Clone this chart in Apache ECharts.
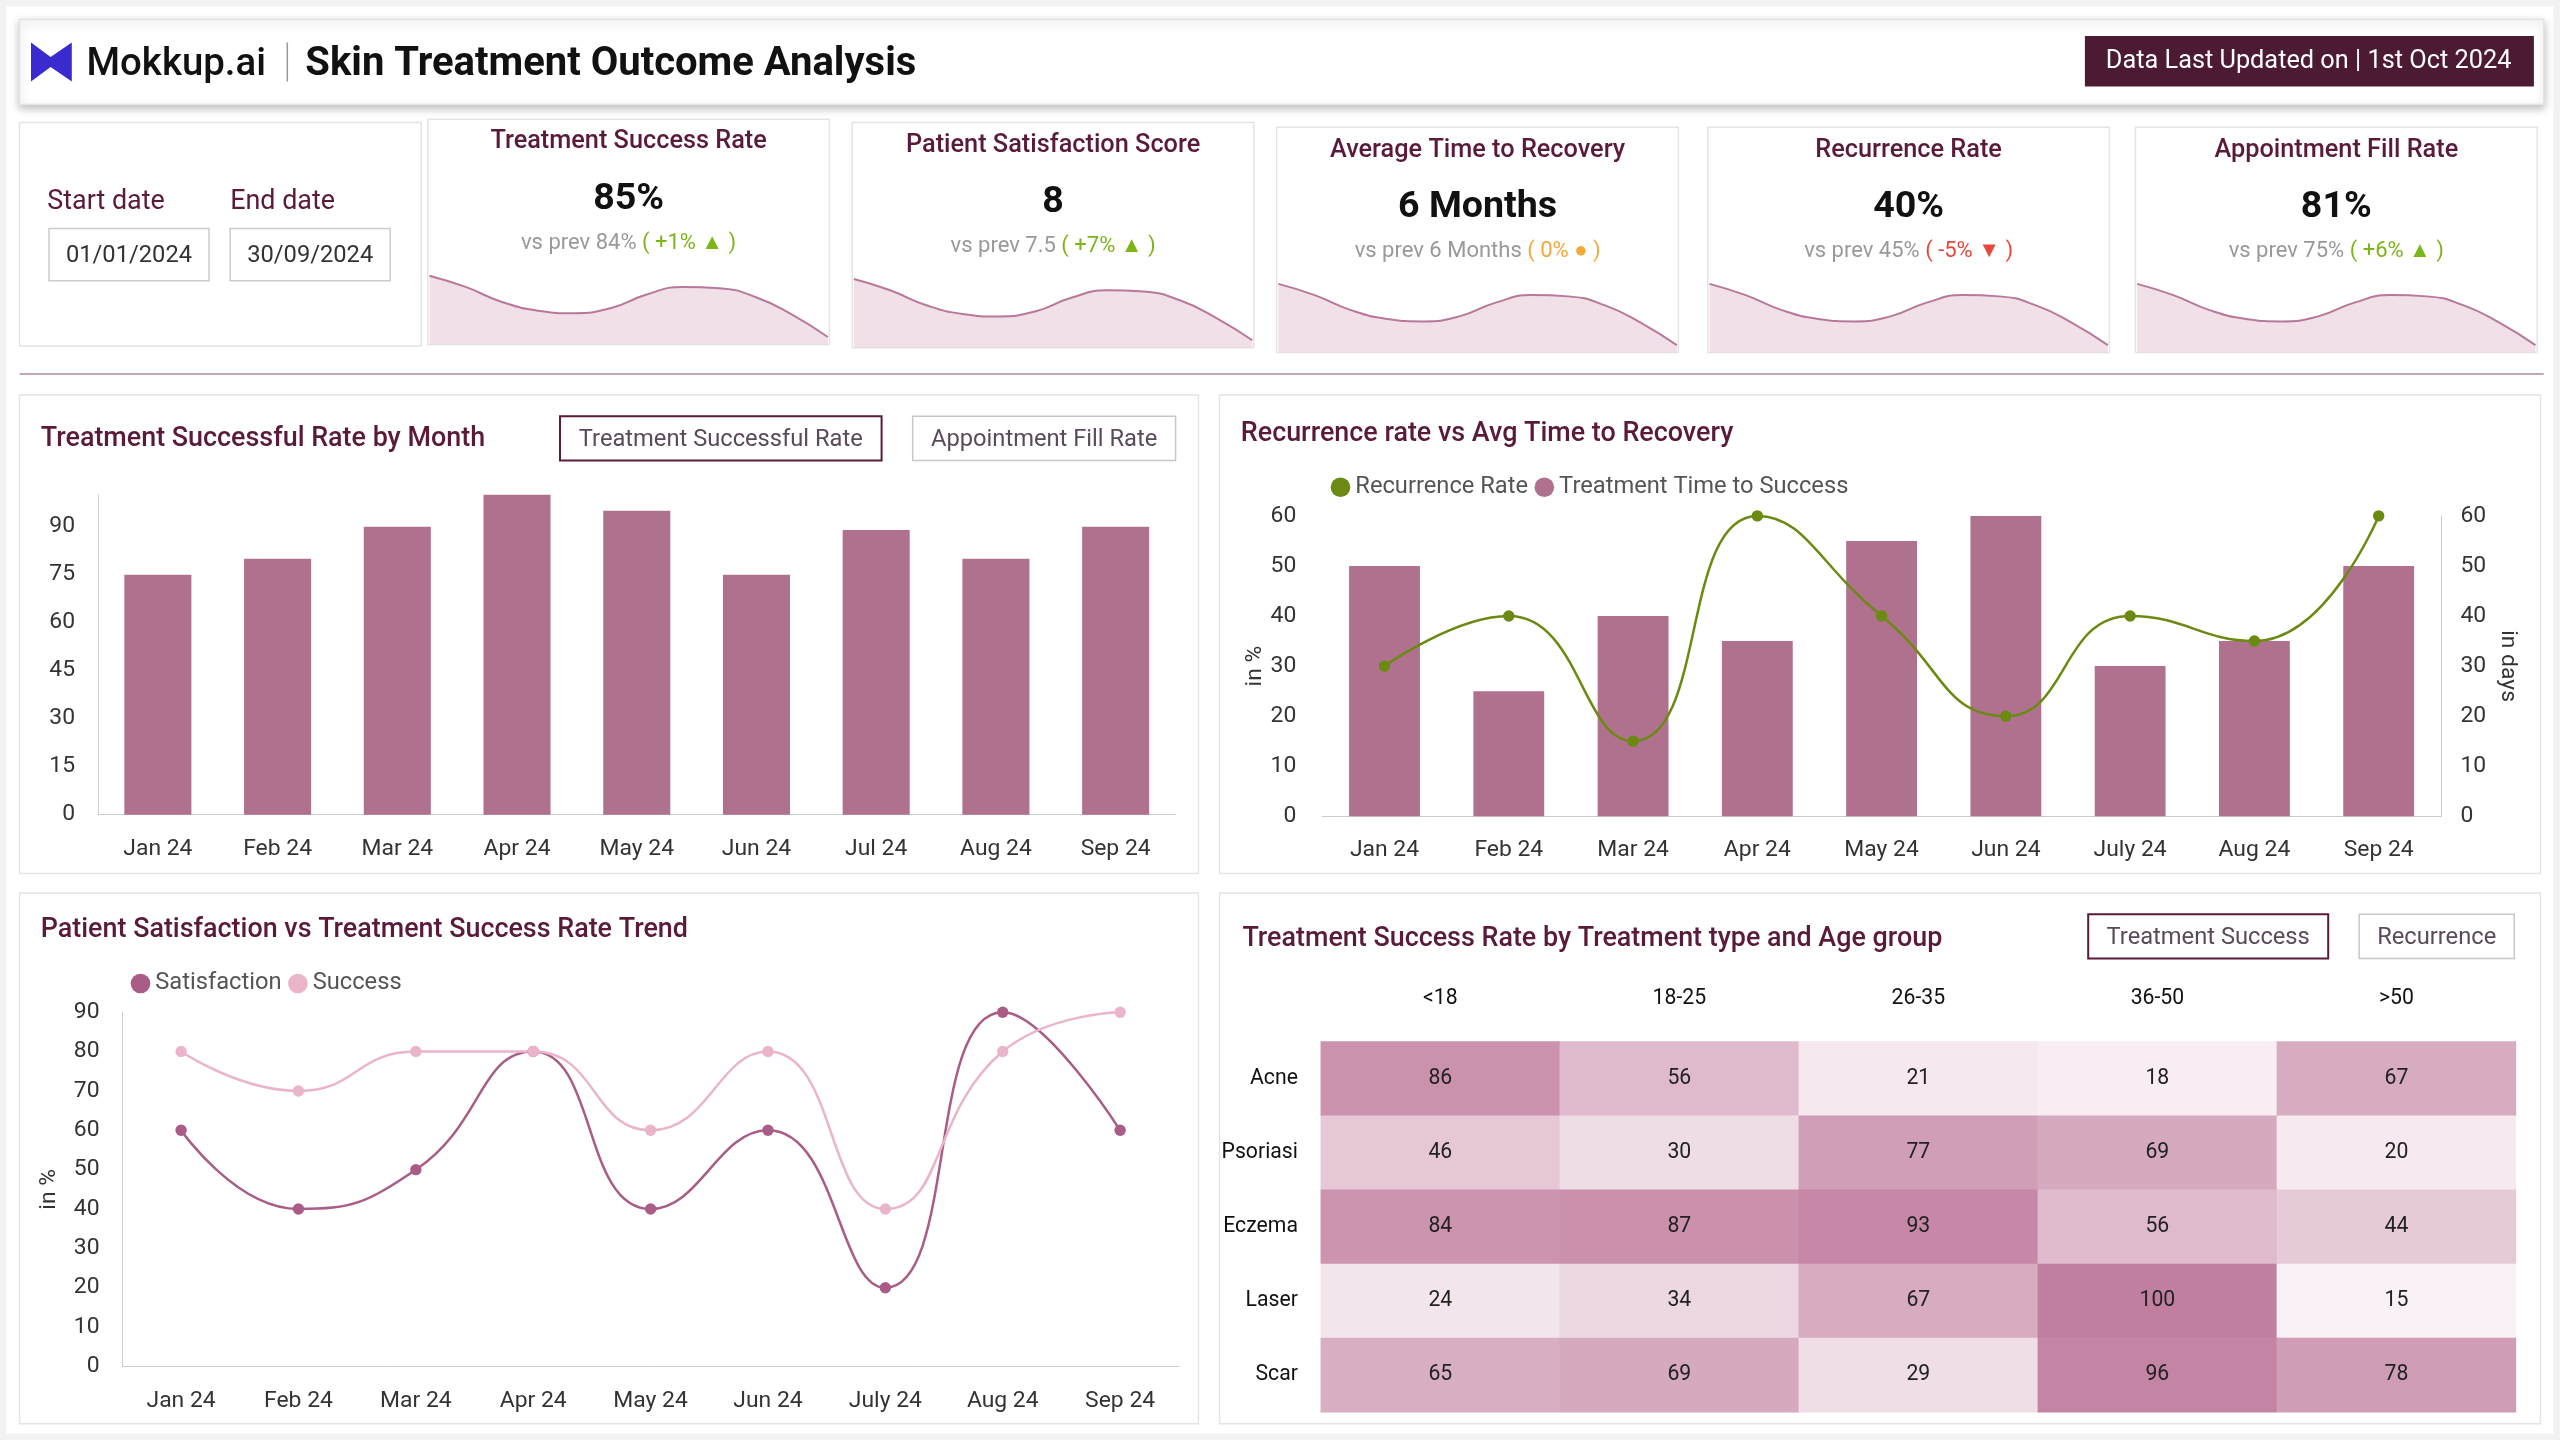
<!DOCTYPE html>
<html>
<head>
<meta charset="utf-8">
<script src="https://cdn.jsdelivr.net/npm/echarts@6/dist/echarts.min.js"></script>
<style>
html,body{margin:0;padding:0;background:#f0f0f0;}
#main{width:2560px;height:1440px;}
</style>
</head>
<body>
<div id="main"></div>
<script>
var months = ['Jan 24','Feb 24','Mar 24','Apr 24','May 24','Jun 24','Jul 24','Aug 24','Sep 24'];
var months2 = ['Jan 24','Feb 24','Mar 24','Apr 24','May 24','Jun 24','July 24','Aug 24','Sep 24'];
var successByMonth = [75, 80, 90, 100, 95, 75, 89, 80, 90];
var treatmentTime = [50, 25, 40, 35, 55, 60, 30, 35, 50];
var recurrenceRate = [30, 40, 15, 60, 40, 20, 40, 35, 60];
var satisfaction = [60, 40, 50, 80, 40, 60, 20, 90, 60];
var successTrend = [80, 70, 80, 80, 60, 80, 40, 80, 90];
var treatments = ['Acne','Psoriasi','Eczema','Laser','Scar'];
var ageGroups = ['<18','18-25','26-35','36-50','>50'];
var heatValues = [
  [86, 56, 21, 18, 67],
  [46, 30, 77, 69, 20],
  [84, 87, 93, 56, 44],
  [24, 34, 67, 100, 15],
  [65, 69, 29, 96, 78]
];
var sparkline = [55, 46, 34, 27, 25, 29, 40, 46, 45, 38, 24, 6];
var kpiTitles = ['Treatment Success Rate','Patient Satisfaction Score','Average Time to Recovery','Recurrence Rate','Appointment Fill Rate'];
var kpiValues = ['85%','8','6 Months','40%','81%'];
var kpiPrev = ['84%','7.5','6 Months','45%','75%'];
var kpiDelta = ['+1%','+7%','0%','-5%','+6%'];
var kpiTrend = ['up','up','flat','down','up'];

var s = 2560 / 1568;
function S(v){ return Math.round(v * s * 10) / 10; }

var FONT = 'Roboto';
var DARK = '#5a1a3a';
var BAR = '#b0718f';

var graphics = [];
function card(x, y, w, h, shadow){
  graphics.push({type:'rect', shape:{x:S(x), y:S(y), width:S(w), height:S(h)},
    style:{fill:'#fff', stroke:'#e4e4e4', lineWidth:1.5,
      shadowBlur: shadow ? 8 : 0, shadowColor:'rgba(0,0,0,0.25)', shadowOffsetY: shadow ? 3 : 0}, z:-10});
}
function text(x, y, str, size, color, weight, align, extra){
  var st = {text:str, x:S(x), y:S(y), fill:color, font:(weight||'normal') + ' ' + S(size) + 'px ' + FONT,
    textAlign:align||'left', textVerticalAlign:'middle'};
  if (extra) { for (var k in extra) st[k] = extra[k]; }
  graphics.push({type:'text', style:st, z:10});
}
function button(x, y, w, h, label, active){
  graphics.push({type:'rect', shape:{x:S(x), y:S(y), width:S(w), height:S(h)},
    style:{fill:'#fff', stroke: active ? '#5a1a3a' : '#c8c8c8', lineWidth: active ? 2 : 1.5}, z:5});
  text(x + w/2, y + h/2 + 1, label, 14.5, '#5a4a5a', 'normal', 'center');
}

// background
graphics.push({type:'rect', shape:{x:0, y:0, width:2560, height:1440}, style:{fill:'#f2f2f2'}, z:-20});
graphics.push({type:'rect', shape:{x:S(4), y:S(4), width:S(1560), height:S(874)}, style:{fill:'#fff'}, z:-15});

// header
card(12, 12, 1546, 52, true);
graphics.push({type:'polygon', shape:{points:[[S(19),S(26)],[S(31),S(35)],[S(44),S(26)],[S(44),S(50)],[S(31),S(41)],[S(19),S(50)]]},
  style:{fill:'#3a2bd0'}, z:10});
text(53, 40, 'Mokkup.ai', 23.5, '#111', '500');
graphics.push({type:'line', shape:{x1:S(176), y1:S(26), x2:S(176), y2:S(50)}, style:{stroke:'#999', lineWidth:1.5}, z:10});
text(187, 40, 'Skin Treatment Outcome Analysis', 24.5, '#111', 'bold');
graphics.push({type:'rect', shape:{x:S(1277), y:S(22), width:S(275), height:S(31)}, style:{fill:'#4d1a34'}, z:10});
text(1414, 38, 'Data Last Updated on | 1st Oct 2024', 15.5, '#fff', 'normal', 'center');

// date card
card(12, 75, 246, 137);
text(29, 124, 'Start date', 16.5, DARK);
text(141, 124, 'End date', 16.5, DARK);
graphics.push({type:'rect', shape:{x:S(30), y:S(140), width:S(98), height:S(32)}, style:{fill:'#fff', stroke:'#ccc', lineWidth:1.5}, z:5});
graphics.push({type:'rect', shape:{x:S(141), y:S(140), width:S(98), height:S(32)}, style:{fill:'#fff', stroke:'#ccc', lineWidth:1.5}, z:5});
text(79, 157, '01/01/2024', 14.5, '#333', 'normal', 'center');
text(190, 157, '30/09/2024', 14.5, '#333', 'normal', 'center');

// KPI cards
var kpiX = [262, 522, 782, 1046, 1308];
var kpiY = [73, 75, 78, 78, 78];
var grids = [], xAxes = [], yAxes = [], series = [];
for (var i = 0; i < 5; i++) {
  var x = kpiX[i], y = kpiY[i];
  card(x, y, 246, 138);
  text(x + 123, y + 14, kpiTitles[i], 15.5, DARK, '500', 'center');
  text(x + 123, y + 49, kpiValues[i], 23, '#111', 'bold', 'center');
  var col = kpiTrend[i] === 'up' ? '#7cb518' : (kpiTrend[i] === 'down' ? '#e8473c' : '#f5a73a');
  var sym = kpiTrend[i] === 'up' ? '▲' : (kpiTrend[i] === 'down' ? '▼' : '●');
  graphics.push({type:'text', z:10, style:{x:S(x + 123), y:S(y + 76), textAlign:'center', textVerticalAlign:'middle',
    text:'{a|vs prev ' + kpiPrev[i] + ' }{b|( ' + kpiDelta[i] + ' ' + sym + ' )}',
    rich:{a:{fill:'#999', font:S(13.5) + 'px ' + FONT}, b:{fill:col, font:S(13.5) + 'px ' + FONT}}}});
  grids.push({left:S(x + 1), top:S(y + 92), width:S(244), height:S(46)});
  xAxes.push({type:'category', gridIndex:i, show:false, boundaryGap:false, data:sparkline.map(function(v, k){ return k; })});
  yAxes.push({type:'value', gridIndex:i, show:false, min:0, max:60});
  series.push({type:'line', xAxisIndex:i, yAxisIndex:i, data:sparkline, smooth:true, symbol:'none',
    lineStyle:{color:'#b8789a', width:2}, areaStyle:{color:'#ecd3df'}, silent:true});
}

graphics.push({type:'line', shape:{x1:S(12), y1:S(229), x2:S(1558), y2:S(229)}, style:{stroke:'#b08a9c', lineWidth:1.5}, z:5});

// panels
card(12, 242, 722, 293);
card(747, 242, 809, 293);
card(12, 547, 722, 325);
card(747, 547, 809, 325);
text(25, 269, 'Treatment Successful Rate by Month', 16.5, DARK, '500');
button(343, 255, 197, 27, 'Treatment Successful Rate', true);
button(559, 255, 161, 27, 'Appointment Fill Rate', false);
text(760, 266, 'Recurrence rate vs Avg Time to Recovery', 16.5, DARK, '500');
text(25, 570, 'Patient Satisfaction vs Treatment Success Rate Trend', 16.5, DARK, '500');
text(761, 575, 'Treatment Success Rate by Treatment type and Age group', 16.5, DARK, '500');
button(1279, 560, 147, 27, 'Treatment Success', true);
button(1445, 560, 95, 27, 'Recurrence', false);

var axisLbl = {color:'#333', fontSize:S(14), fontFamily:FONT, margin:S(14)};
var axisLine = {show:true, lineStyle:{color:'#ccc'}};

// bar chart (grid 5)
grids.push({left:S(60), right:S(2560/s - 720), top:S(303), height:S(196)});
xAxes.push({type:'category', gridIndex:5, data:months, axisTick:{show:false}, axisLine:axisLine, axisLabel:axisLbl});
yAxes.push({type:'value', gridIndex:5, min:0, max:100, interval:15, splitLine:{show:false}, axisLine:axisLine,
  axisLabel:{color:'#333', fontSize:S(14), fontFamily:FONT, margin:S(14), formatter:function(v){ return v > 90 ? '' : v; }}});
series.push({type:'bar', xAxisIndex:5, yAxisIndex:5, data:successByMonth, barWidth:'56%', itemStyle:{color:BAR}});

// combo chart (grid 6)
grids.push({left:S(810), right:S(2560/s - 1495), top:S(316), height:S(184)});
xAxes.push({type:'category', gridIndex:6, data:months2, axisTick:{show:false}, axisLine:axisLine, axisLabel:axisLbl});
yAxes.push({type:'value', gridIndex:6, min:0, max:60, interval:10, splitLine:{show:false}, axisLine:{show:false},
  name:'in %', nameLocation:'middle', nameGap:S(24), nameRotate:90, nameTextStyle:{color:'#333', fontSize:S(14), fontFamily:FONT},
  axisLabel:{color:'#333', fontSize:S(14), fontFamily:FONT, margin:S(16)}});
yAxes.push({type:'value', gridIndex:6, position:'right', min:0, max:60, interval:10, splitLine:{show:false}, axisLine:axisLine,
  name:'in days', nameLocation:'middle', nameGap:S(34), nameRotate:-90, nameTextStyle:{color:'#333', fontSize:S(14), fontFamily:FONT},
  axisLabel:{color:'#333', fontSize:S(14), fontFamily:FONT, margin:S(12)}});
series.push({name:'Treatment Time to Success', type:'bar', xAxisIndex:6, yAxisIndex:6, data:treatmentTime, barWidth:'57%', itemStyle:{color:BAR}});
series.push({name:'Recurrence Rate', type:'line', xAxisIndex:6, yAxisIndex:7, data:recurrenceRate, smooth:true, symbol:'circle', symbolSize:S(7),
  lineStyle:{color:'#6b8a12', width:2.5}, itemStyle:{color:'#6b8a12'}});

// trend chart (grid 7)
grids.push({left:S(75), right:S(2560/s - 722), top:S(620), height:S(217)});
xAxes.push({type:'category', gridIndex:7, data:months2, axisTick:{show:false}, axisLine:axisLine, axisLabel:axisLbl});
yAxes.push({type:'value', gridIndex:7, min:0, max:90, interval:10, splitLine:{show:false}, axisLine:axisLine,
  name:'in %', nameLocation:'middle', nameGap:S(38), nameRotate:90, nameTextStyle:{color:'#333', fontSize:S(14), fontFamily:FONT},
  axisLabel:{color:'#333', fontSize:S(14), fontFamily:FONT, margin:S(14)}});
series.push({name:'Satisfaction', type:'line', xAxisIndex:7, yAxisIndex:8, data:satisfaction, smooth:true, symbol:'circle', symbolSize:S(7),
  lineStyle:{color:'#a95c86', width:2.5}, itemStyle:{color:'#a95c86'}});
series.push({name:'Success', type:'line', xAxisIndex:7, yAxisIndex:8, data:successTrend, smooth:true, symbol:'circle', symbolSize:S(7),
  lineStyle:{color:'#eab5cb', width:2.5}, itemStyle:{color:'#eab5cb'}});

// heatmap (grid 8)
var heatData = [];
for (var r = 0; r < treatments.length; r++) {
  for (var c = 0; c < ageGroups.length; c++) heatData.push([c, r, heatValues[r][c]]);
}
grids.push({left:S(809), right:S(2560/s - 1541), top:S(638), height:S(227)});
xAxes.push({type:'category', gridIndex:8, position:'top', data:ageGroups, axisTick:{show:false}, axisLine:{show:false},
  axisLabel:{color:'#111', fontSize:S(13), fontFamily:FONT, margin:S(20)}});
yAxes.push({type:'category', gridIndex:8, inverse:true, data:treatments, axisTick:{show:false}, axisLine:{show:false},
  axisLabel:{color:'#111', fontSize:S(13), fontFamily:FONT, margin:S(14)}});
series.push({type:'heatmap', xAxisIndex:8, yAxisIndex:9, data:heatData,
  label:{show:true, color:'#222', fontSize:S(13), fontFamily:FONT}});

var chart = echarts.init(document.getElementById('main'));
chart.setOption({
  animation:false,
  textStyle:{fontFamily:FONT},
  graphic:graphics,
  grid:grids,
  xAxis:xAxes,
  yAxis:yAxes,
  visualMap:{show:false, seriesIndex:series.length - 1, min:15, max:100, inRange:{color:['#f9f1f5','#c17f9f']}},
  legend:[
    {data:['Recurrence Rate','Treatment Time to Success'], left:S(812), top:S(288), icon:'circle', itemWidth:S(12), itemHeight:S(12), itemGap:S(4),
      textStyle:{color:'#555', fontSize:S(14.5), fontFamily:FONT}},
    {data:['Satisfaction','Success'], left:S(77), top:S(592), icon:'circle', itemWidth:S(12), itemHeight:S(12), itemGap:S(4),
      textStyle:{color:'#555', fontSize:S(14.5), fontFamily:FONT}}
  ],
  series:series
});
</script>
</body>
</html>
